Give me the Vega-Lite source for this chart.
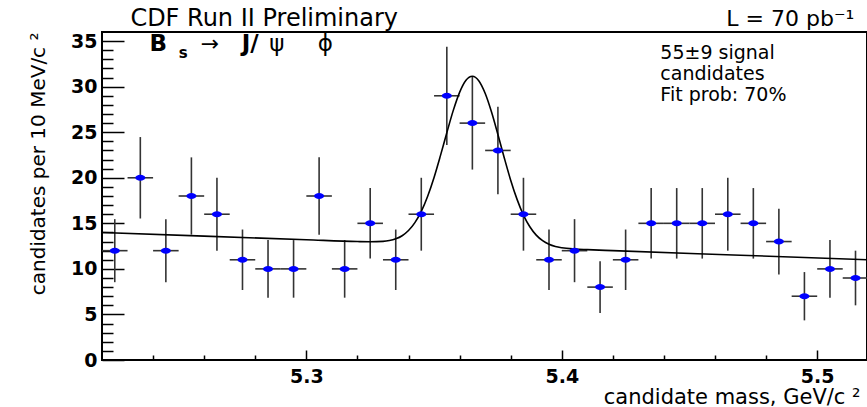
{
  "$schema": "https://vega.github.io/schema/vega-lite/v6.json",
  "width": 765,
  "height": 328,
  "autosize": {"type": "none"},
  "padding": {"left": 102, "top": 32, "right": 0, "bottom": 47},
  "background": "white",
  "config": {
    "view": {"stroke": "black", "strokeWidth": 2},
    "axis": {"grid": false, "domainColor": "black", "tickColor": "black", "labelColor": "black", "titleColor": "black"},
    "text": {"font": "DejaVu Sans", "color": "black"}
  },
  "datasets": {
    "bins": [
      {"m": 5.225, "n": 12, "lo": 8.54, "hi": 15.46, "mlo": 5.22, "mhi": 5.23},
      {"m": 5.235, "n": 20, "lo": 15.53, "hi": 24.47, "mlo": 5.23, "mhi": 5.24},
      {"m": 5.245, "n": 12, "lo": 8.54, "hi": 15.46, "mlo": 5.24, "mhi": 5.25},
      {"m": 5.255, "n": 18, "lo": 13.76, "hi": 22.24, "mlo": 5.25, "mhi": 5.26},
      {"m": 5.265, "n": 16, "lo": 12.0, "hi": 20.0, "mlo": 5.26, "mhi": 5.27},
      {"m": 5.275, "n": 11, "lo": 7.68, "hi": 14.32, "mlo": 5.27, "mhi": 5.28},
      {"m": 5.285, "n": 10, "lo": 6.84, "hi": 13.16, "mlo": 5.28, "mhi": 5.29},
      {"m": 5.295, "n": 10, "lo": 6.84, "hi": 13.16, "mlo": 5.29, "mhi": 5.30},
      {"m": 5.305, "n": 18, "lo": 13.76, "hi": 22.24, "mlo": 5.30, "mhi": 5.31},
      {"m": 5.315, "n": 10, "lo": 6.84, "hi": 13.16, "mlo": 5.31, "mhi": 5.32},
      {"m": 5.325, "n": 15, "lo": 11.13, "hi": 18.87, "mlo": 5.32, "mhi": 5.33},
      {"m": 5.335, "n": 11, "lo": 7.68, "hi": 14.32, "mlo": 5.33, "mhi": 5.34},
      {"m": 5.345, "n": 16, "lo": 12.0, "hi": 20.0, "mlo": 5.34, "mhi": 5.35},
      {"m": 5.355, "n": 29, "lo": 23.61, "hi": 34.39, "mlo": 5.35, "mhi": 5.36},
      {"m": 5.365, "n": 26, "lo": 20.90, "hi": 31.10, "mlo": 5.36, "mhi": 5.37},
      {"m": 5.375, "n": 23, "lo": 18.20, "hi": 27.80, "mlo": 5.37, "mhi": 5.38},
      {"m": 5.385, "n": 16, "lo": 12.0, "hi": 20.0, "mlo": 5.38, "mhi": 5.39},
      {"m": 5.395, "n": 11, "lo": 7.68, "hi": 14.32, "mlo": 5.39, "mhi": 5.40},
      {"m": 5.405, "n": 12, "lo": 8.54, "hi": 15.46, "mlo": 5.40, "mhi": 5.41},
      {"m": 5.415, "n": 8, "lo": 5.17, "hi": 10.83, "mlo": 5.41, "mhi": 5.42},
      {"m": 5.425, "n": 11, "lo": 7.68, "hi": 14.32, "mlo": 5.42, "mhi": 5.43},
      {"m": 5.435, "n": 15, "lo": 11.13, "hi": 18.87, "mlo": 5.43, "mhi": 5.44},
      {"m": 5.445, "n": 15, "lo": 11.13, "hi": 18.87, "mlo": 5.44, "mhi": 5.45},
      {"m": 5.455, "n": 15, "lo": 11.13, "hi": 18.87, "mlo": 5.45, "mhi": 5.46},
      {"m": 5.465, "n": 16, "lo": 12.0, "hi": 20.0, "mlo": 5.46, "mhi": 5.47},
      {"m": 5.475, "n": 15, "lo": 11.13, "hi": 18.87, "mlo": 5.47, "mhi": 5.48},
      {"m": 5.485, "n": 13, "lo": 9.39, "hi": 16.61, "mlo": 5.48, "mhi": 5.49},
      {"m": 5.495, "n": 7, "lo": 4.35, "hi": 9.65, "mlo": 5.49, "mhi": 5.50},
      {"m": 5.505, "n": 10, "lo": 6.84, "hi": 13.16, "mlo": 5.50, "mhi": 5.51},
      {"m": 5.515, "n": 9, "lo": 6.0, "hi": 12.0, "mlo": 5.51, "mhi": 5.52}
    ],
    "fit": [
      {"m": 5.22, "f": 14.0},
      {"m": 5.26, "f": 13.6},
      {"m": 5.30, "f": 13.2},
      {"m": 5.32, "f": 13.0},
      {"m": 5.325, "f": 12.98},
      {"m": 5.33, "f": 13.02},
      {"m": 5.3325, "f": 13.11},
      {"m": 5.335, "f": 13.30},
      {"m": 5.3375, "f": 13.64},
      {"m": 5.34, "f": 14.21},
      {"m": 5.3425, "f": 15.08},
      {"m": 5.345, "f": 16.31},
      {"m": 5.3475, "f": 17.98},
      {"m": 5.35, "f": 20.04},
      {"m": 5.3525, "f": 22.43},
      {"m": 5.355, "f": 24.95},
      {"m": 5.3575, "f": 27.37},
      {"m": 5.36, "f": 29.38},
      {"m": 5.3625, "f": 30.71},
      {"m": 5.365, "f": 31.15},
      {"m": 5.3675, "f": 30.66},
      {"m": 5.37, "f": 29.28},
      {"m": 5.3725, "f": 27.22},
      {"m": 5.375, "f": 24.75},
      {"m": 5.3775, "f": 22.18},
      {"m": 5.38, "f": 19.74},
      {"m": 5.3825, "f": 17.63},
      {"m": 5.385, "f": 15.91},
      {"m": 5.3875, "f": 14.63},
      {"m": 5.39, "f": 13.71},
      {"m": 5.3925, "f": 13.10},
      {"m": 5.395, "f": 12.70},
      {"m": 5.3975, "f": 12.46},
      {"m": 5.40, "f": 12.32},
      {"m": 5.405, "f": 12.18},
      {"m": 5.41, "f": 12.11},
      {"m": 5.42, "f": 12.0},
      {"m": 5.47, "f": 11.5},
      {"m": 5.52, "f": 11.0}
    ]
  },
  "resolve": {"axis": {"x": "independent", "y": "independent"}},
  "layer": [
    {
      "data": {"name": "bins"},
      "mark": {"type": "rule", "color": "#333333", "strokeWidth": 1.6, "clip": true},
      "encoding": {
        "x": {
          "field": "m", "type": "quantitative",
          "scale": {"domain": [5.22, 5.5195], "nice": false, "zero": false},
          "axis": {
            "orient": "bottom", "values": [5.3, 5.4, 5.5], "format": ".1f",
            "ticks": true, "tickSize": 10, "tickWidth": 1.5, "offset": -10, "domain": false,
            "labelFont": "DejaVu Sans", "labelFontWeight": "bold", "labelFontSize": 19,
            "labelPadding": 7, "labelFlush": false, "labelOverlap": false,
            "title": "candidate mass, GeV/c ²",
            "titleFont": "DejaVu Sans", "titleFontWeight": "normal", "titleFontSize": 21,
            "titleAnchor": "end", "titleAlign": "right", "titleBaseline": "alphabetic",
            "titleX": 758, "titleY": 53
          }
        },
        "y": {
          "field": "lo", "type": "quantitative",
          "scale": {"domain": [0, 36], "nice": false, "zero": true},
          "axis": {
            "orient": "left", "values": [0, 5, 10, 15, 20, 25, 30, 35],
            "ticks": true, "tickSize": 22, "tickWidth": 1.5, "offset": -22, "domain": false,
            "labelFont": "DejaVu Sans", "labelFontWeight": "bold", "labelFontSize": 19,
            "labelPadding": 5, "labelOverlap": false, "labelFlush": false,
            "title": "candidates per 10 MeV/c ²",
            "titleFont": "DejaVu Sans", "titleFontWeight": "normal", "titleFontSize": 20,
            "titleAngle": -90, "titleAlign": "right", "titleBaseline": "alphabetic",
            "titleX": -80, "titleY": 0
          }
        },
        "y2": {"field": "hi"}
      }
    },
    {
      "data": {"name": "bins"},
      "mark": {"type": "rule", "color": "#333333", "strokeWidth": 1.6, "clip": true},
      "encoding": {
        "x": {"field": "mlo", "type": "quantitative", "axis": null},
        "x2": {"field": "mhi"},
        "y": {"field": "n", "type": "quantitative", "axis": null}
      }
    },
    {
      "data": {"name": "fit"},
      "mark": {"type": "line", "color": "black", "strokeWidth": 1.6, "clip": true, "interpolate": "monotone"},
      "encoding": {
        "x": {"field": "m", "type": "quantitative", "axis": null},
        "y": {
          "field": "f", "type": "quantitative",
          "axis": {"orient": "right", "offset": -765,
                   "values": [1, 2, 3, 4, 6, 7, 8, 9, 11, 12, 13, 14, 16, 17, 18, 19, 21, 22, 23, 24, 26, 27, 28, 29, 31, 32, 33, 34],
                   "labels": false, "domain": false, "ticks": true, "tickSize": 11, "tickWidth": 1.5, "title": null}
        }
      }
    },
    {
      "data": {"name": "bins"},
      "mark": {"type": "point", "shape": "M-1,0A1,0.6,0,1,0,1,0A1,0.6,0,1,0,-1,0Z", "size": 100,
               "filled": true, "color": "#0000ff", "opacity": 1, "strokeWidth": 0, "clip": true},
      "encoding": {
        "x": {
          "field": "m", "type": "quantitative",
          "axis": {"orient": "top", "offset": -328,
                   "values": [5.24, 5.26, 5.28, 5.32, 5.34, 5.36, 5.38, 5.42, 5.44, 5.46, 5.48],
                   "labels": false, "domain": false, "ticks": true, "tickSize": 5, "tickWidth": 1.5, "title": null}
        },
        "y": {"field": "n", "type": "quantitative", "axis": null}
      }
    },
    {
      "data": {"values": [{}]},
      "mark": {"type": "text", "text": "CDF Run II Preliminary", "align": "center", "baseline": "alphabetic",
               "font": "DejaVu Sans", "fontSize": 24},
      "encoding": {
        "x": {"datum": 5.2835, "type": "quantitative", "axis": null},
        "y": {"datum": 36.66, "type": "quantitative", "axis": null}
      }
    },
    {
      "data": {"values": [{}]},
      "mark": {"type": "text", "text": "L = 70 pb⁻¹", "align": "center", "baseline": "alphabetic",
               "font": "DejaVu Sans", "fontSize": 22},
      "encoding": {
        "x": {"datum": 5.4895, "type": "quantitative", "axis": null},
        "y": {"datum": 36.66, "type": "quantitative", "axis": null}
      }
    },
    {
      "data": {"values": [{}]},
      "mark": {"type": "text", "text": "55±9 signal", "align": "left",
               "baseline": "alphabetic", "font": "DejaVu Sans", "fontSize": 19},
      "encoding": {
        "x": {"datum": 5.4386, "type": "quantitative", "axis": null},
        "y": {"datum": 33.04, "type": "quantitative", "axis": null}
      }
    },
    {
      "data": {"values": [{}]},
      "mark": {"type": "text", "text": "candidates", "align": "left",
               "baseline": "alphabetic", "font": "DejaVu Sans", "fontSize": 19},
      "encoding": {
        "x": {"datum": 5.4386, "type": "quantitative", "axis": null},
        "y": {"datum": 30.73, "type": "quantitative", "axis": null}
      }
    },
    {
      "data": {"values": [{}]},
      "mark": {"type": "text", "text": "Fit prob: 70%", "align": "left",
               "baseline": "alphabetic", "font": "DejaVu Sans", "fontSize": 19},
      "encoding": {
        "x": {"datum": 5.4386, "type": "quantitative", "axis": null},
        "y": {"datum": 28.43, "type": "quantitative", "axis": null}
      }
    },
    {
      "data": {"values": [{}]},
      "mark": {"type": "text", "text": "B", "align": "left", "baseline": "alphabetic",
               "font": "DejaVu Sans", "fontWeight": "bold", "fontSize": 23},
      "encoding": {
        "x": {"datum": 5.2386, "type": "quantitative", "axis": null},
        "y": {"datum": 33.91, "type": "quantitative", "axis": null}
      }
    },
    {
      "data": {"values": [{}]},
      "mark": {"type": "text", "text": "s", "align": "left", "baseline": "alphabetic",
               "font": "DejaVu Sans", "fontWeight": "bold", "fontSize": 15},
      "encoding": {
        "x": {"datum": 5.2500, "type": "quantitative", "axis": null},
        "y": {"datum": 33.15, "type": "quantitative", "axis": null}
      }
    },
    {
      "data": {"values": [{}]},
      "mark": {"type": "text", "text": "→", "align": "center", "baseline": "alphabetic",
               "font": "DejaVu Sans", "fontSize": 22},
      "encoding": {
        "x": {"datum": 5.2623, "type": "quantitative", "axis": null},
        "y": {"datum": 33.91, "type": "quantitative", "axis": null}
      }
    },
    {
      "data": {"values": [{}]},
      "mark": {"type": "text", "text": "J/", "align": "center", "baseline": "alphabetic",
               "font": "DejaVu Sans", "fontWeight": "bold", "fontSize": 23},
      "encoding": {
        "x": {"datum": 5.2780, "type": "quantitative", "axis": null},
        "y": {"datum": 33.91, "type": "quantitative", "axis": null}
      }
    },
    {
      "data": {"values": [{}]},
      "mark": {"type": "text", "text": "ψ", "align": "center", "baseline": "alphabetic",
               "font": "DejaVu Sans", "fontSize": 23},
      "encoding": {
        "x": {"datum": 5.2885, "type": "quantitative", "axis": null},
        "y": {"datum": 33.91, "type": "quantitative", "axis": null}
      }
    },
    {
      "data": {"values": [{}]},
      "mark": {"type": "text", "text": "ϕ", "align": "center", "baseline": "alphabetic",
               "font": "DejaVu Sans", "fontSize": 23},
      "encoding": {
        "x": {"datum": 5.3074, "type": "quantitative", "axis": null},
        "y": {"datum": 33.91, "type": "quantitative", "axis": null}
      }
    }
  ]
}
